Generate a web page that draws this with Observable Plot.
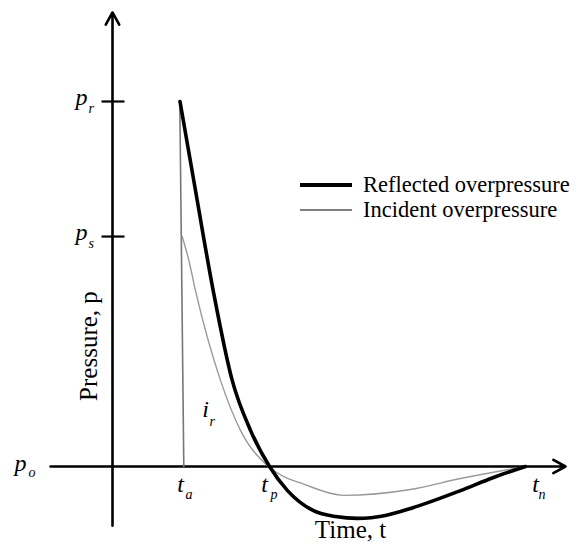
<!DOCTYPE html>
<html><head><meta charset="utf-8">
<script src="https://cdn.jsdelivr.net/npm/d3@7"></script>
<script src="https://cdn.jsdelivr.net/npm/@observablehq/plot@0.6"></script>
<style>
body{margin:0;background:#fff;}
#wrap{position:relative;width:579px;height:544px;}
#legend{position:absolute;left:300px;top:172px;font-family:"Liberation Serif","DejaVu Serif",serif;font-size:22.5px;color:#000;line-height:25px;}
.row{display:flex;align-items:center;height:25px;white-space:nowrap;}
.sw{width:52px;margin-right:11px;display:block;}
</style></head><body><div id="wrap"><div id="legend"></div></div>
<script>
// ---- data (arbitrary schematic units) ----
const reflectedT = [6.75, 8.3, 10.07, 11.97, 13.8, 15.7, 17.5, 20.1, 22.3, 24.5, 27.3, 29.8, 34.8, 38.1, 41.3];
const reflectedP = [10, 7.56, 4.82, 2.36, 0.99, 0, -0.66, -1.21, -1.37, -1.42, -1.34, -1.15, -0.66, -0.30, 0];
const incidentT = [6.97, 7.63, 8.3, 10.8, 12.8, 15.6, 17.3, 18.8, 23.1, 29.8, 34.8, 41.3];
const incidentP = [6.3, 5.65, 4.82, 2.36, 0.99, 0, -0.3, -0.45, -0.79, -0.63, -0.33, 0];
const riseT = [6.73, 7.13];
const riseP = [10, 0];
const pTickNames = ["r", "s"];
const pTickValues = [10, 6.3];
const pO = 0;
const tTickNames = ["a", "p", "n"];
const tTickValues = [6.8, 15.7, 41.3];
const seriesNames = ["Reflected overpressure", "Incident overpressure"];
const xAxisExtent = [-6.2, 45.3];
const yAxisExtent = [-1.62, 12.44];
const impulseLabel = {t: 9.3, p: 1.56, base: "i", sub: "r"};

const reflected = reflectedT.map((t, i) => ({t, p: reflectedP[i]}));
const incident = incidentT.map((t, i) => ({t, p: incidentP[i]}));
const rise = riseT.map((t, i) => ({t, p: riseP[i]}));
const pTicks = pTickValues.map((v, i) => ({v, sub: pTickNames[i]}));
const tTicks = tTickValues.map((v, i) => ({v, sub: tTickNames[i]}));
const axes = [
  {x1: 0, y1: yAxisExtent[0], x2: 0, y2: yAxisExtent[1]},
  {x1: xAxisExtent[0], y1: pO, x2: xAxisExtent[1], y2: pO}
];

// label layout offsets (pixels)
const tLabelDx = [0, -5, 10];
const tSubDx = [5, 1, 13];

const serif = "'Liberation Serif', 'DejaVu Serif', serif";
const colors = {refl: "#000", inc: "#9a9a9a", rise: "#777"};

const tLabelMarks = tTicks.flatMap((d, i) => [
  Plot.text([d], {x: "v", y: pO, text: () => "t", textAnchor: "middle", dx: tLabelDx[i], dy: 18, fontSize: 24, fontStyle: "italic"}),
  Plot.text([d], {x: "v", y: pO, text: "sub", textAnchor: "start", dx: tSubDx[i], dy: 28, fontSize: 14, fontStyle: "italic"})
]);

const chart = Plot.plot({
  width: 579, height: 544,
  marginTop: 0, marginRight: 0, marginBottom: 0, marginLeft: 0,
  x: {domain: [-11.2, 46.7], axis: null},
  y: {domain: [-2.137, 12.767], axis: null},
  style: {fontFamily: serif, background: "#fff"},
  marks: [
    Plot.arrow(axes, {x1: "x1", y1: "y1", x2: "x2", y2: "y2", stroke: "#000", strokeWidth: 2.6, headLength: 8, headAngle: 58}),
    Plot.link(pTicks, {x1: -1.1, x2: 1.2, y1: "v", y2: "v", stroke: "#000", strokeWidth: 2.2}),
    Plot.line(rise, {x: "t", y: "p", stroke: colors.rise, strokeWidth: 1.6}),
    Plot.line(incident, {x: "t", y: "p", stroke: colors.inc, strokeWidth: 1.4, curve: "monotone-x"}),
    Plot.line(reflected, {x: "t", y: "p", stroke: colors.refl, strokeWidth: 3.6, curve: "monotone-x"}),
    // y tick labels
    Plot.text(pTicks, {x: 0, y: "v", text: () => "p", textAnchor: "start", dx: -37, dy: -4, fontSize: 24, fontStyle: "italic"}),
    Plot.text(pTicks, {x: 0, y: "v", text: "sub", textAnchor: "start", dx: -24, dy: 7, fontSize: 14, fontStyle: "italic"}),
    Plot.text([pO], {x: 0, y: d => d, text: () => "p", textAnchor: "start", dx: -98, dy: -3, fontSize: 24, fontStyle: "italic"}),
    Plot.text([pO], {x: 0, y: d => d, text: () => "o", textAnchor: "start", dx: -84, dy: 6, fontSize: 14, fontStyle: "italic"}),
    // x tick labels
    ...tLabelMarks,
    // impulse label
    Plot.text([impulseLabel], {x: "t", y: "p", text: "base", textAnchor: "middle", fontSize: 24, fontStyle: "italic"}),
    Plot.text([impulseLabel], {x: "t", y: "p", text: "sub", textAnchor: "start", dx: 4, dy: 12, fontSize: 14, fontStyle: "italic"}),
    // axis titles
    Plot.text(["Pressure, p"], {x: -2.4, y: 3.3, text: d => d, rotate: -90, textAnchor: "middle", fontSize: 25}),
    Plot.text(["Time, t"], {x: 23.8, y: -1.74, text: d => d, textAnchor: "middle", fontSize: 25})
  ]
});
document.getElementById("wrap").prepend(chart);

// legend
const leg = document.getElementById("legend");
const widths = [4, 1.4];
const strokes = ["#000", "#555"];
seriesNames.forEach((name, i) => {
  const row = document.createElement("div");
  row.className = "row";
  row.innerHTML = `<svg class="sw" width="52" height="10"><line x1="0" x2="52" y1="5" y2="5" stroke="${strokes[i]}" stroke-width="${widths[i]}"/></svg><span>${name}</span>`;
  leg.appendChild(row);
});
</script>
</body></html>
